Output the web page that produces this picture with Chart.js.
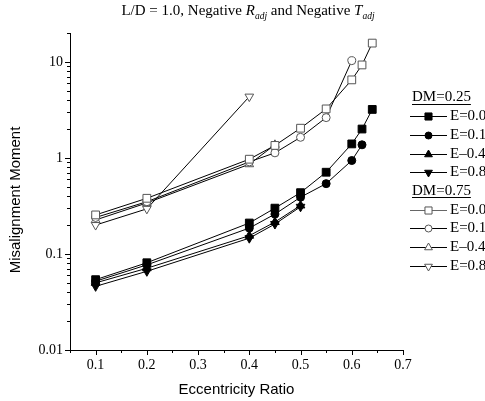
<!DOCTYPE html>
<html>
<head>
<meta charset="utf-8">
<script src="https://cdn.jsdelivr.net/npm/chart.js@4.4.1/dist/chart.umd.min.js"></script>
<style>
  html, body { margin: 0; padding: 0; background: #fff; }
</style>
</head>
<body>
<canvas id="chart" width="485" height="401"></canvas>
<script>
// eccentricity ratios used by the runs (longest series uses all of them)
const eccentricity = [0.1, 0.2, 0.4, 0.45, 0.5, 0.55, 0.6, 0.62, 0.64];

// DM = 0.25 (filled markers)
const dm25E00 = [0.054, 0.081, 0.21, 0.30, 0.435, 0.71, 1.40, 2.0, 3.2];
const dm25E01 = [0.052, 0.077, 0.186, 0.26, 0.39, 0.54, 0.94, 1.37];
const dm25E04 = [0.050, 0.071, 0.155, 0.215, 0.32];
const dm25E08 = [0.046, 0.066, 0.146, 0.205, 0.31];

// DM = 0.75 (open markers)
const dm75E00 = [0.255, 0.38, 0.97, 1.35, 2.04, 3.24, 6.5, 9.3, 15.7];
const dm75E01 = [0.24, 0.35, 0.91, 1.13, 1.64, 2.63, 10.3];
const dm75E04 = [0.226, 0.34, 0.86, 1.37];
const dm75E08 = [0.20, 0.295, 4.35];

const xTicks = [0.1, 0.2, 0.3, 0.4, 0.5, 0.6, 0.7];
const xMinorTicks = [0.05, 0.15, 0.25, 0.35, 0.45, 0.55, 0.65];
const yTicks = [0.01, 0.1, 1, 10];
const eLabels = ["E=0.0", "E=0.1", "E\u20130.4", "E=0.8"];
const groupLabels = ["DM=0.25", "DM=0.75"];

const serif = "'Liberation Serif', 'Times New Roman', serif";
const sans = "'Liberation Sans', Arial, sans-serif";

function pts(vals) {
  return vals.map((y, i) => ({ x: eccentricity[i], y }));
}

const shapes = [
  { pointStyle: "rect", pointRadius: 5.5, pointRotation: 0 },
  { pointStyle: "circle", pointRadius: 4, pointRotation: 0 },
  { pointStyle: "triangle", pointRadius: 5, pointRotation: 0 },
  { pointStyle: "triangle", pointRadius: 5, pointRotation: 180 },
];

function makeSet(label, vals, k, filled) {
  return Object.assign({
    label,
    data: pts(vals),
    borderColor: "#000",
    borderWidth: 1,
    pointBackgroundColor: filled ? "#000" : "#fff",
    pointBorderColor: filled ? "#000" : "#555",
    pointBorderWidth: 1,
    pointHoverRadius: 5,
    tension: 0,
    fill: false,
  }, shapes[k]);
}

const datasets = [
  makeSet("DM=0.25 " + eLabels[0], dm25E00, 0, true),
  makeSet("DM=0.25 " + eLabels[1], dm25E01, 1, true),
  makeSet("DM=0.25 " + eLabels[2], dm25E04, 2, true),
  makeSet("DM=0.25 " + eLabels[3], dm25E08, 3, true),
  makeSet("DM=0.75 " + eLabels[0], dm75E00, 0, false),
  makeSet("DM=0.75 " + eLabels[1], dm75E01, 1, false),
  makeSet("DM=0.75 " + eLabels[2], dm75E04, 2, false),
  makeSet("DM=0.75 " + eLabels[3], dm75E08, 3, false),
];

// minor tick marks, titles (with subscripts), and the grouped legend
const decor = {
  id: "decor",
  afterDraw(chart) {
    const ctx = chart.ctx;
    const xs = chart.scales.x, ys = chart.scales.y;
    const a = chart.chartArea;
    ctx.save();
    ctx.strokeStyle = "#000";
    ctx.lineWidth = 1;

    // x ticks (outward, down)
    ctx.beginPath();
    xTicks.forEach(v => {
      const px = Math.round(xs.getPixelForValue(v)) + 0.5;
      ctx.moveTo(px, a.bottom); ctx.lineTo(px, a.bottom + 5);
    });
    xMinorTicks.forEach(v => {
      const px = Math.round(xs.getPixelForValue(v)) + 0.5;
      ctx.moveTo(px, a.bottom); ctx.lineTo(px, a.bottom + 3);
    });
    // y ticks (outward, left)
    for (let d = -2; d <= 1; d++) {
      for (let m = 1; m <= 9; m++) {
        const v = m * Math.pow(10, d);
        if (v > ys.max * 1.0001) continue;
        const py = Math.round(ys.getPixelForValue(v)) + 0.5;
        const len = m === 1 ? 5 : 3;
        ctx.moveTo(a.left, py); ctx.lineTo(a.left - len, py);
      }
    }
    if (20 <= ys.max * 1.0001) {
      const py = Math.round(ys.getPixelForValue(20)) + 0.5;
      ctx.moveTo(a.left, py); ctx.lineTo(a.left - 3, py);
    }
    ctx.stroke();

    // title
    const big = "15px " + serif, bigIt = "italic 15px " + serif, sub = "italic 9.5px " + serif;
    const parts = [
      { t: "L/D = 1.0, Negative ", f: big, dy: 0 },
      { t: "R", f: bigIt, dy: 0 },
      { t: "adj", f: sub, dy: 4 },
      { t: " and Negative ", f: big, dy: 0 },
      { t: "T", f: bigIt, dy: 0 },
      { t: "adj", f: sub, dy: 4 },
    ];
    let total = 0;
    parts.forEach(p => { ctx.font = p.f; p.w = ctx.measureText(p.t).width; total += p.w; });
    let tx = 248 - total / 2;
    ctx.fillStyle = "#000";
    ctx.textBaseline = "alphabetic";
    ctx.textAlign = "left";
    parts.forEach(p => { ctx.font = p.f; ctx.fillText(p.t, tx, 14.5 + p.dy); tx += p.w; });

    // y axis title
    ctx.save();
    ctx.translate(16, 200);
    ctx.rotate(-Math.PI / 2);
    ctx.font = "15px " + sans;
    ctx.textAlign = "center";
    ctx.textBaseline = "middle";
    ctx.fillText("Misalignment Moment", 0, 0);
    ctx.restore();

    // legend
    const lx0 = 410, lx1 = 447, tx0 = 450, rowH = 18.7;
    let y = 97.5;
    const lf = "15px " + serif;
    ctx.font = lf;
    ctx.textAlign = "left";
    ctx.textBaseline = "middle";
    for (let g = 0; g < 2; g++) {
      ctx.fillStyle = "#000";
      ctx.strokeStyle = "#000";
      ctx.fillText(groupLabels[g], 412, y);
      const w = ctx.measureText(groupLabels[g]).width;
      ctx.beginPath();
      ctx.moveTo(412, Math.round(y + 6) + 0.5); ctx.lineTo(412 + w, Math.round(y + 6) + 0.5);
      ctx.stroke();
      y += rowH;
      for (let k = 0; k < 4; k++) {
        const ds = chart.data.datasets[g * 4 + k];
        const yy = Math.round(y) + 0.5;
        ctx.beginPath();
        ctx.strokeStyle = (g === 1 && k === 0) ? "#666" : "#000";
        ctx.moveTo(lx0, yy); ctx.lineTo(lx1, yy);
        ctx.stroke();
        ctx.fillStyle = ds.pointBackgroundColor;
        ctx.strokeStyle = ds.pointBorderColor;
        Chart.helpers.drawPoint(ctx, {
          pointStyle: ds.pointStyle, radius: ds.pointRadius - 0.5,
          rotation: ds.pointRotation, borderWidth: 1,
        }, (lx0 + lx1) / 2, yy);
        ctx.fillStyle = "#000";
        ctx.strokeStyle = "#000";
        ctx.font = lf;
        ctx.fillText(eLabels[k], tx0, y);
        y += rowH;
      }
    }
    ctx.restore();
  },
};

new Chart(document.getElementById("chart"), {
  type: "line",
  data: { datasets },
  plugins: [decor],
  options: {
    responsive: false,
    animation: false,
    devicePixelRatio: 1,
    layout: { padding: { top: 33, right: 82, left: 0, bottom: 0 } },
    plugins: { legend: { display: false }, title: { display: false }, tooltip: { enabled: false } },
    scales: {
      x: {
        type: "linear",
        min: 0.05,
        max: 0.7,
        afterBuildTicks: s => { s.ticks = xTicks.map(v => ({ value: v })); },
        afterFit: s => { s.height = 51; },
        grid: { display: false, drawTicks: false },
        border: { display: true, color: "#000", width: 1 },
        ticks: {
          color: "#000", padding: 7, maxRotation: 0,
          font: { family: serif, size: 14 },
          callback: v => v.toFixed(1),
        },
        title: {
          display: true, text: "Eccentricity Ratio", color: "#000",
          font: { family: sans, size: 15 }, padding: { top: 0, bottom: 2 },
        },
      },
      y: {
        type: "logarithmic",
        min: 0.01,
        max: 20,
        afterBuildTicks: s => { s.ticks = yTicks.map(v => ({ value: v })); },
        afterFit: s => { s.width = 70; },
        grid: { display: false, drawTicks: false },
        border: { display: true, color: "#000", width: 1 },
        ticks: {
          color: "#000", padding: 7,
          font: { family: serif, size: 14 },
          callback: v => String(v),
        },
        title: { display: false },
      },
    },
  },
});
</script>
</body>
</html>
